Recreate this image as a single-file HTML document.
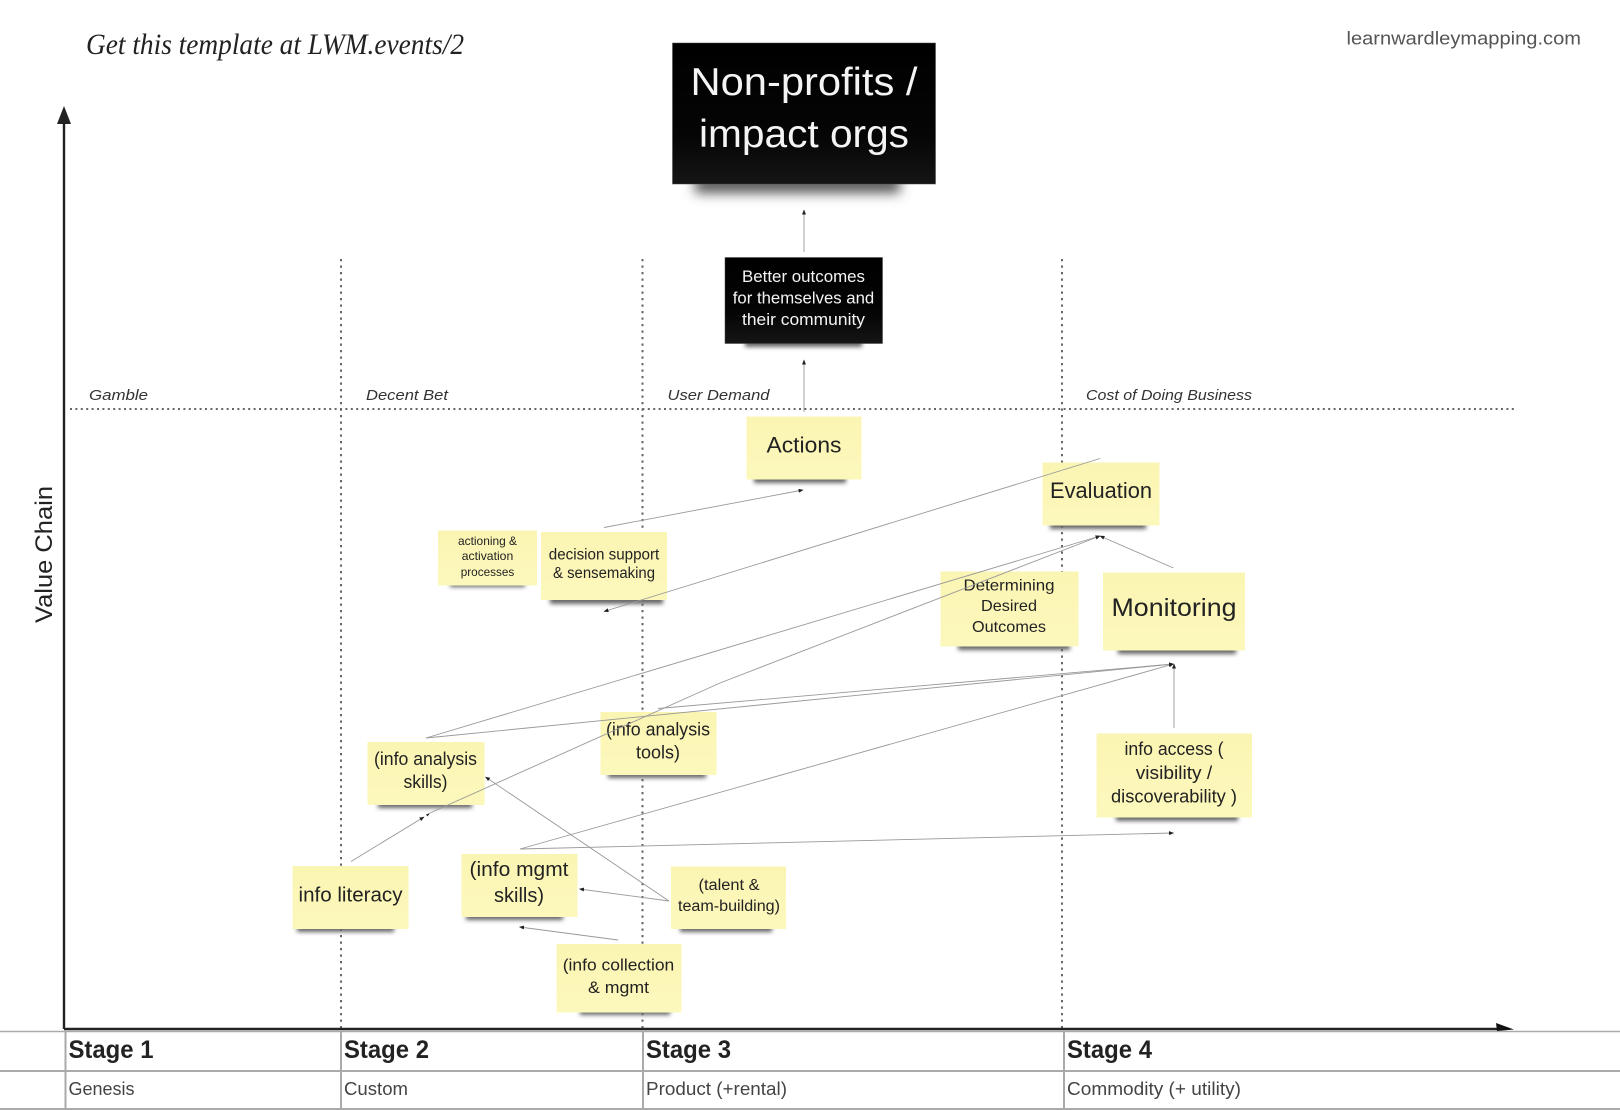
<!DOCTYPE html>
<html><head><meta charset="utf-8"><title>Wardley map</title>
<style>
html,body{margin:0;padding:0;background:#fff}
svg{display:block}
text{font-family:"Liberation Sans",sans-serif}
.n{text-anchor:middle;fill:#222}
.w{text-anchor:middle;fill:#f4f4f4}
.l{font-style:italic;font-size:15px;fill:#333}
.h{font-weight:bold;font-size:25px;fill:#222}
.s{font-size:18px;fill:#444}
.note{fill:url(#y)}
.c{stroke:#999;stroke-width:.9;fill:none;marker-end:url(#a)}
</style></head><body>
<svg width="1620" height="1110" viewBox="0 0 1620 1110" xmlns="http://www.w3.org/2000/svg">
<defs>
<linearGradient id="y" x1="0" y1="0" x2="0" y2="1"><stop offset="0" stop-color="#fbf5b3"/><stop offset="1" stop-color="#fcf8bc"/></linearGradient>
<linearGradient id="b" x1="0" y1="0" x2="0" y2="1"><stop offset="0" stop-color="#000"/><stop offset=".65" stop-color="#050505"/><stop offset="1" stop-color="#151515"/></linearGradient>
<filter id="sh" x="-20%" y="-100%" width="140%" height="300%"><feGaussianBlur stdDeviation="2.2"/></filter>
<filter id="sh2" x="-20%" y="-100%" width="140%" height="300%"><feGaussianBlur stdDeviation="6"/></filter>
<marker id="a" markerUnits="userSpaceOnUse" markerWidth="5" markerHeight="4" refX="4.5" refY="2" orient="auto"><path d="M0 0L5 2L0 4z" fill="#222"/></marker>
</defs>

<!-- dotted grid -->
<g stroke="#666" stroke-width="2" fill="none">
<path d="M341 259V1028M642.5 259V1028M1062 259V1028" stroke-dasharray="2.2 4.3"/>
<path d="M70 409H1517" stroke-dasharray="2 3.4"/>
</g>

<!-- table -->
<g stroke="#aaa" fill="none">
<path d="M0 1031.5H1620" stroke-width="1.5"/>
<path d="M0 1071H1620" stroke-width="2"/>
<path d="M0 1109H1620" stroke-width="2"/>
<path d="M65.5 1031V1110M341 1031V1110M643 1031V1110M1064 1031V1110" stroke-width="2"/>
</g>

<!-- axes -->
<path d="M64 1029V120M64 1029H1500" stroke="#222" stroke-width="2.4" fill="none"/>
<path d="M57 124L64 106L71 124z" fill="#222"/>
<path d="M1496 1023L1514 1029.5L1497 1031z" fill="#111"/>

<!-- text headers -->
<text x="86" y="54" font-size="30" textLength="378" lengthAdjust="spacingAndGlyphs" style="font-family:'Liberation Serif',serif;font-style:italic" fill="#222">Get this template at LWM.events/2</text>
<text x="1346.5" y="44.5" font-size="18" textLength="234.5" lengthAdjust="spacingAndGlyphs" fill="#555">learnwardleymapping.com</text>
<text transform="translate(52,623) rotate(-90)" font-size="24" textLength="137" lengthAdjust="spacingAndGlyphs" fill="#222">Value Chain</text>

<text class="l" x="89" y="400" textLength="59" lengthAdjust="spacingAndGlyphs">Gamble</text>
<text class="l" x="366" y="400" textLength="82" lengthAdjust="spacingAndGlyphs">Decent Bet</text>
<text class="l" x="667.5" y="400" textLength="102" lengthAdjust="spacingAndGlyphs">User Demand</text>
<text class="l" x="1086" y="400" textLength="166" lengthAdjust="spacingAndGlyphs">Cost of Doing Business</text>

<text class="h" x="68.5" y="1058" textLength="85" lengthAdjust="spacingAndGlyphs">Stage 1</text>
<text class="h" x="344" y="1058" textLength="85" lengthAdjust="spacingAndGlyphs">Stage 2</text>
<text class="h" x="646" y="1058" textLength="85" lengthAdjust="spacingAndGlyphs">Stage 3</text>
<text class="h" x="1067" y="1058" textLength="85" lengthAdjust="spacingAndGlyphs">Stage 4</text>
<text class="s" x="68.5" y="1095" textLength="66" lengthAdjust="spacingAndGlyphs">Genesis</text>
<text class="s" x="344" y="1095" textLength="64" lengthAdjust="spacingAndGlyphs">Custom</text>
<text class="s" x="646" y="1095" textLength="141" lengthAdjust="spacingAndGlyphs">Product (+rental)</text>
<text class="s" x="1067" y="1095" textLength="174" lengthAdjust="spacingAndGlyphs">Commodity (+ utility)</text>

<!-- shadows -->
<g fill="#666" filter="url(#sh)">
<rect x="754" y="475" width="92" height="8"/>
<rect x="1050" y="521" width="96" height="8"/>
<rect x="450" y="581" width="75" height="6"/>
<rect x="550" y="596" width="113" height="8"/>
<rect x="958" y="642" width="112" height="8"/>
<rect x="1118" y="646" width="118" height="8"/>
<rect x="608" y="771" width="98" height="7"/>
<rect x="378" y="801" width="94" height="7"/>
<rect x="297" y="925" width="97" height="7"/>
<rect x="466" y="913" width="97" height="7"/>
<rect x="680" y="925" width="92" height="7"/>
<rect x="580" y="1009" width="90" height="6"/>
<rect x="1116" y="813" width="122" height="8"/>
<rect x="745" y="339" width="117" height="8"/>
</g>
<rect x="695" y="176" width="205" height="17" fill="#555" filter="url(#sh2)"/>

<!-- black boxes -->
<rect x="672.5" y="43" width="263" height="141" fill="url(#b)" stroke="#444" stroke-width=".5"/>
<text class="w" x="804" y="95" font-size="39" textLength="227" lengthAdjust="spacingAndGlyphs">Non-profits /</text>
<text class="w" x="804" y="147" font-size="39" textLength="210" lengthAdjust="spacingAndGlyphs">impact orgs</text>
<rect x="725" y="257.5" width="157.5" height="86" fill="url(#b)" stroke="#444" stroke-width=".5"/>
<text class="w" x="803.5" y="282" font-size="16.5" textLength="123" lengthAdjust="spacingAndGlyphs">Better outcomes</text>
<text class="w" x="803.5" y="303.5" font-size="16.5" textLength="141.5" lengthAdjust="spacingAndGlyphs">for themselves and</text>
<text class="w" x="803.5" y="325" font-size="16.5" textLength="123" lengthAdjust="spacingAndGlyphs">their community</text>

<!-- notes -->
<rect class="note" x="746.5" y="416.5" width="115" height="63"/>
<text class="n" x="804" y="452.5" font-size="22" textLength="75" lengthAdjust="spacingAndGlyphs">Actions</text>

<rect class="note" x="1042.5" y="462.5" width="117" height="63"/>
<text class="n" x="1101" y="498" font-size="22" textLength="102" lengthAdjust="spacingAndGlyphs">Evaluation</text>

<rect class="note" x="438" y="530.5" width="99" height="55"/>
<text class="n" x="487.5" y="545" font-size="12" textLength="59" lengthAdjust="spacingAndGlyphs">actioning &amp;</text>
<text class="n" x="487.5" y="560" font-size="12" textLength="51.5" lengthAdjust="spacingAndGlyphs">activation</text>
<text class="n" x="487.5" y="576" font-size="12" textLength="53.5" lengthAdjust="spacingAndGlyphs">processes</text>

<rect class="note" x="541" y="532" width="126" height="68"/>
<text class="n" x="604" y="559.5" font-size="15.5" textLength="110.5" lengthAdjust="spacingAndGlyphs">decision support</text>
<text class="n" x="604" y="578" font-size="15.5" textLength="102" lengthAdjust="spacingAndGlyphs">&amp; sensemaking</text>

<rect class="note" x="940.5" y="571.5" width="138" height="75"/>
<text class="n" x="1009" y="590.5" font-size="16" textLength="91" lengthAdjust="spacingAndGlyphs">Determining</text>
<text class="n" x="1009" y="611" font-size="16" textLength="56" lengthAdjust="spacingAndGlyphs">Desired</text>
<text class="n" x="1009" y="632" font-size="16" textLength="74" lengthAdjust="spacingAndGlyphs">Outcomes</text>

<rect class="note" x="1103" y="572.5" width="142" height="78"/>
<text class="n" x="1174" y="616" font-size="25" textLength="125" lengthAdjust="spacingAndGlyphs">Monitoring</text>

<rect class="note" x="600.5" y="712" width="116" height="63"/>
<text class="n" x="658" y="735.5" font-size="18" textLength="104" lengthAdjust="spacingAndGlyphs">(info analysis</text>
<text class="n" x="658" y="758.5" font-size="18" textLength="44" lengthAdjust="spacingAndGlyphs">tools)</text>

<rect class="note" x="367.5" y="742" width="117" height="63"/>
<text class="n" x="425.5" y="765" font-size="18" textLength="103" lengthAdjust="spacingAndGlyphs">(info analysis</text>
<text class="n" x="425.5" y="788" font-size="18" textLength="44" lengthAdjust="spacingAndGlyphs">skills)</text>

<rect class="note" x="292.5" y="866" width="116" height="63"/>
<text class="n" x="350.5" y="901.5" font-size="20" textLength="104" lengthAdjust="spacingAndGlyphs">info literacy</text>

<rect class="note" x="461.5" y="854" width="116" height="63"/>
<text class="n" x="519" y="876" font-size="20" textLength="99" lengthAdjust="spacingAndGlyphs">(info mgmt</text>
<text class="n" x="519" y="902" font-size="20" textLength="50" lengthAdjust="spacingAndGlyphs">skills)</text>

<rect class="note" x="671" y="866.5" width="115" height="62.5"/>
<text class="n" x="729" y="890" font-size="15.5" textLength="61" lengthAdjust="spacingAndGlyphs">(talent &amp;</text>
<text class="n" x="729" y="911" font-size="15.5" textLength="102" lengthAdjust="spacingAndGlyphs">team-building)</text>

<rect class="note" x="556.5" y="944" width="125" height="68.5"/>
<text class="n" x="618.5" y="970.5" font-size="17" textLength="111.5" lengthAdjust="spacingAndGlyphs">(info collection</text>
<text class="n" x="618.5" y="993" font-size="17" textLength="61" lengthAdjust="spacingAndGlyphs">&amp; mgmt</text>

<rect class="note" x="1096.5" y="733.5" width="155.5" height="84"/>
<text class="n" x="1174" y="755" font-size="18" textLength="99" lengthAdjust="spacingAndGlyphs">info access (</text>
<text class="n" x="1174" y="779" font-size="18" textLength="76.5" lengthAdjust="spacingAndGlyphs">visibility /</text>
<text class="n" x="1174" y="802.5" font-size="18" textLength="126" lengthAdjust="spacingAndGlyphs">discoverability )</text>

<!-- connectors -->
<line class="c" x1="804" y1="252" x2="804" y2="210"/>
<line class="c" x1="804" y1="412" x2="804" y2="360"/>
<line class="c" x1="604" y1="527.5" x2="803" y2="490"/>
<line class="c" x1="1100" y1="458.5" x2="604" y2="611.5"/>
<line class="c" x1="1173.5" y1="568" x2="1100" y2="536"/>
<line class="c" x1="426" y1="738" x2="1100" y2="536"/>
<line class="c" x1="351" y1="861.5" x2="424" y2="817"/>
<polyline class="c" points="430,813 720,683 1100,536"/>
<path d="M430 813L426 814.5L427.5 816.5z" fill="#222"/>
<line class="c" x1="426" y1="738" x2="1173.5" y2="664"/>
<line class="c" x1="658" y1="708.5" x2="1173.5" y2="664"/>
<line class="c" x1="520" y1="849" x2="1173.5" y2="664"/>
<line class="c" x1="520" y1="849" x2="1173.5" y2="833"/>
<line class="c" x1="1174" y1="728" x2="1174" y2="664"/>
<line class="c" x1="669" y1="901" x2="485.5" y2="777"/>
<line class="c" x1="669" y1="901" x2="579.5" y2="889"/>
<line class="c" x1="618" y1="940" x2="519.5" y2="927"/>
</svg>
</body></html>
